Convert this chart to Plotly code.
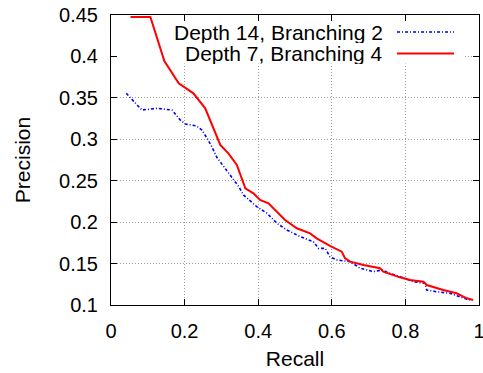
import plotly.graph_objects as go

# Precision-recall curves for two tree configurations
recall_d14_b2 = [0.0415, 0.084, 0.125, 0.166, 0.188, 0.202, 0.233, 0.247, 0.261, 0.274,
                 0.288, 0.319, 0.347, 0.360, 0.396, 0.424, 0.451, 0.478, 0.514, 0.550,
                 0.564, 0.582, 0.595, 0.614, 0.650, 0.677, 0.713, 0.736, 0.758, 0.790,
                 0.822, 0.853, 0.858, 0.885, 0.921, 0.948, 0.967, 0.980]
precision_d14_b2 = [0.3555, 0.3353, 0.3374, 0.3353, 0.3233, 0.3185, 0.3160, 0.3112, 0.3012, 0.2910,
                    0.2780, 0.2590, 0.2430, 0.2328, 0.2187, 0.2107, 0.1986, 0.1905, 0.1825, 0.1764,
                    0.1684, 0.1684, 0.1583, 0.1543, 0.1523, 0.1443, 0.1402, 0.1423, 0.1382, 0.1334,
                    0.1281, 0.1262, 0.1181, 0.1160, 0.1141, 0.1100, 0.1069, 0.1061]

recall_d7_b4 = [0.053, 0.107, 0.145, 0.184, 0.224, 0.256, 0.297, 0.319, 0.342, 0.365,
                0.387, 0.405, 0.428, 0.446, 0.473, 0.505, 0.541, 0.559, 0.595, 0.627,
                0.636, 0.650, 0.686, 0.731, 0.740, 0.785, 0.813, 0.849, 0.858, 0.903,
                0.939, 0.967, 0.984]
precision_d7_b4 = [0.4475, 0.4475, 0.3945, 0.3676, 0.3555, 0.3374, 0.2931, 0.2830, 0.2690, 0.2408,
                   0.2348, 0.2267, 0.2227, 0.2147, 0.2026, 0.1926, 0.1865, 0.1805, 0.1714, 0.1644,
                   0.1564, 0.1523, 0.1483, 0.1443, 0.1402, 0.1334, 0.1302, 0.1281, 0.1241, 0.1181,
                   0.1141, 0.1081, 0.1060]

series_names = ["Depth 14, Branching 2", "Depth 7, Branching 4"]
series_colors = ["#0000ff", "#ff0000"]
series_dash = ["3px,2px,1px,2px", "solid"]
series_width = [1.6, 2.0]

x_ticks = [0, 0.2, 0.4, 0.6, 0.8, 1.0]
x_ticktext = ["0", "0.2", "0.4", "0.6", "0.8", "1"]
y_ticks = [0.1, 0.15, 0.2, 0.25, 0.3, 0.35, 0.4, 0.45]
y_ticktext = ["0.1", "0.15", "0.2", "0.25", "0.3", "0.35", "0.4", "0.45"]

FONT = "Liberation Sans, Arial, Helvetica, sans-serif"

# plot area geometry in figure pixels
W, H = 483, 373
LEFT, RIGHT, TOP, BOTTOM = 111, 479, 15, 305


def px_to_paper_x(px):
    return (px - LEFT) / (RIGHT - LEFT)


def px_to_paper_y(py):
    return (BOTTOM - py) / (BOTTOM - TOP)


fig = go.Figure()
curves = [(recall_d14_b2, precision_d14_b2), (recall_d7_b4, precision_d7_b4)]
for (xs, ys), name, color, dash, w in zip(curves, series_names, series_colors, series_dash, series_width):
    fig.add_trace(go.Scatter(x=xs, y=ys, mode="lines", name=name,
                             line=dict(color=color, dash=dash, width=w),
                             showlegend=False))

# opaque key box: hides the grid behind the key, curves stay on top
fig.add_shape(type="rect", xref="x", yref="y", x0=0.0, x1=0.96, y0=0.3915, y1=0.45,
              fillcolor="white", line=dict(width=0), layer="between")

# key entries: right-justified text followed by a line sample
key_rows = [32, 53.5]
for name, color, dash, w, py in zip(series_names, series_colors, series_dash, series_width, key_rows):
    yp = px_to_paper_y(py)
    fig.add_annotation(xref="paper", yref="paper", x=px_to_paper_x(385), y=yp,
                       text=name, showarrow=False, xanchor="right", yanchor="middle",
                       height=21, valign="middle",
                       font=dict(family=FONT, size=21, color="black"))
    fig.add_shape(type="line", xref="paper", yref="paper",
                  x0=px_to_paper_x(397), x1=px_to_paper_x(454), y0=yp, y1=yp,
                  line=dict(color=color, dash=dash, width=w), layer="above")

axis_common = dict(
    showline=True, linecolor="black", linewidth=1, mirror="ticks",
    ticks="inside", ticklen=6, tickcolor="black", tickwidth=1,
    showgrid=True, gridcolor="#9a9a9a", gridwidth=1, griddash="1px,2px",
    zeroline=False, ticklabeloverflow="allow", automargin=False,
    tickfont=dict(family=FONT, size=20, color="black"),
)

fig.update_xaxes(range=[0, 1], tickvals=x_ticks, ticktext=x_ticktext,
                 title=dict(text="Recall", font=dict(family=FONT, size=21, color="black"), standoff=10),
                 ticklabelstandoff=8, **axis_common)
fig.update_yaxes(range=[0.1, 0.45], tickvals=y_ticks, ticktext=y_ticktext,
                 title=dict(text="Precision", font=dict(family=FONT, size=21, color="black"), standoff=22),
                 ticklabelstandoff=8, **axis_common)

fig.update_layout(width=W, height=H,
                  margin=dict(l=LEFT, r=W - RIGHT, t=TOP, b=H - BOTTOM),
                  plot_bgcolor="white", paper_bgcolor="white",
                  font=dict(family=FONT, size=20, color="black"))

fig.write_html("out.html")
